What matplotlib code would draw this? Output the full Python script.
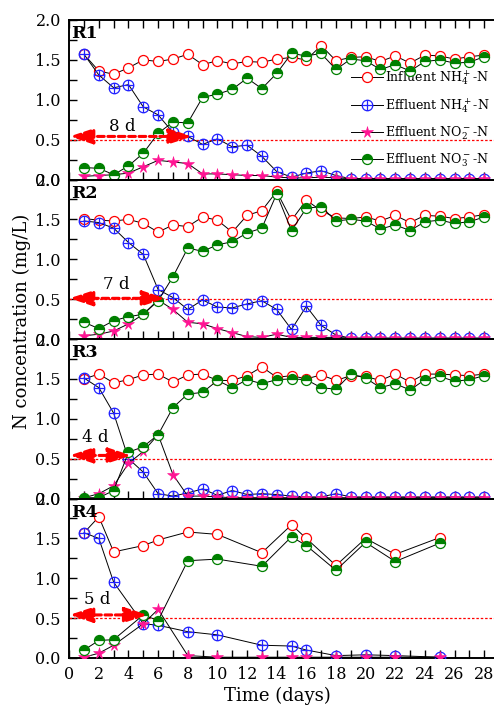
import matplotlib
matplotlib.use('Agg')
import matplotlib.pyplot as plt
from matplotlib.path import Path
from matplotlib.ticker import MultipleLocator

plt.rcParams['font.family'] = ['DejaVu Serif']
plt.rcParams['mathtext.fontset'] = 'dejavuserif'

days = list(range(1, 29))
days4 = [1, 2, 3, 5, 6, 8, 10, 13, 15, 16, 18, 20, 22, 25]

r1_inf = [1.57, 1.36, 1.32, 1.40, 1.50, 1.48, 1.51, 1.57, 1.44, 1.49, 1.45, 1.48, 1.47, 1.51,
          1.53, 1.50, 1.68, 1.49, 1.53, 1.54, 1.48, 1.55, 1.46, 1.56, 1.55, 1.51, 1.54, 1.56]
r1_nh4 = [1.57, 1.31, 1.15, 1.19, 0.91, 0.81, 0.59, 0.54, 0.44, 0.51, 0.41, 0.43, 0.29, 0.10,
          0.03, 0.08, 0.11, 0.05, 0.01, 0.01, 0.01, 0.01, 0.01, 0.01, 0.01, 0.01, 0.01, 0.01]
r1_no2 = [0.04, 0.05, 0.06, 0.08, 0.16, 0.24, 0.22, 0.20, 0.07, 0.07, 0.06, 0.05, 0.05, 0.03,
          0.02, 0.02, 0.03, 0.02, 0.01, 0.01, 0.01, 0.01, 0.01, 0.01, 0.01, 0.01, 0.01, 0.01]
r1_no3 = [0.15, 0.14, 0.06, 0.17, 0.33, 0.58, 0.72, 0.71, 1.03, 1.07, 1.13, 1.27, 1.14, 1.33,
          1.58, 1.55, 1.58, 1.38, 1.51, 1.49, 1.38, 1.44, 1.36, 1.48, 1.50, 1.46, 1.47, 1.54]

r2_inf = [1.51, 1.49, 1.48, 1.50, 1.45, 1.34, 1.43, 1.41, 1.53, 1.49, 1.34, 1.55, 1.61, 1.85,
          1.49, 1.74, 1.61, 1.52, 1.51, 1.53, 1.48, 1.55, 1.46, 1.55, 1.54, 1.51, 1.53, 1.56]
r2_nh4 = [1.48, 1.46, 1.39, 1.21, 1.06, 0.62, 0.52, 0.37, 0.49, 0.40, 0.39, 0.44, 0.48, 0.37,
          0.12, 0.41, 0.17, 0.05, 0.01, 0.01, 0.01, 0.01, 0.01, 0.01, 0.01, 0.01, 0.01, 0.01]
r2_no2 = [0.04, 0.06, 0.10, 0.19, 0.31, 0.49, 0.37, 0.21, 0.19, 0.13, 0.08, 0.03, 0.02, 0.06,
          0.02, 0.02, 0.02, 0.02, 0.01, 0.01, 0.01, 0.01, 0.01, 0.01, 0.01, 0.01, 0.01, 0.01]
r2_no3 = [0.21, 0.13, 0.23, 0.28, 0.31, 0.48, 0.78, 1.14, 1.10, 1.18, 1.22, 1.33, 1.39, 1.82,
          1.36, 1.64, 1.66, 1.48, 1.50, 1.48, 1.38, 1.43, 1.36, 1.47, 1.49, 1.45, 1.47, 1.53]

r3_inf = [1.50, 1.56, 1.45, 1.49, 1.55, 1.56, 1.46, 1.55, 1.56, 1.48, 1.48, 1.54, 1.65, 1.52,
          1.54, 1.50, 1.55, 1.48, 1.54, 1.53, 1.48, 1.56, 1.46, 1.56, 1.56, 1.55, 1.54, 1.56]
r3_nh4 = [1.51, 1.39, 1.07, 0.50, 0.33, 0.06, 0.03, 0.07, 0.12, 0.04, 0.10, 0.05, 0.06, 0.05,
          0.03, 0.02, 0.02, 0.06, 0.02, 0.02, 0.02, 0.02, 0.02, 0.02, 0.02, 0.02, 0.02, 0.02]
r3_no2 = [0.01, 0.06, 0.16, 0.44, 0.59, 0.80, 0.30, 0.03, 0.03, 0.02, 0.01, 0.01, 0.01, 0.01,
          0.01, 0.01, 0.01, 0.01, 0.01, 0.01, 0.01, 0.01, 0.01, 0.01, 0.01, 0.01, 0.01, 0.01]
r3_no3 = [0.01, 0.01, 0.10, 0.58, 0.65, 0.80, 1.14, 1.31, 1.33, 1.48, 1.39, 1.49, 1.44, 1.49,
          1.50, 1.49, 1.39, 1.37, 1.56, 1.51, 1.39, 1.44, 1.36, 1.49, 1.53, 1.47, 1.49, 1.54]

r4_inf = [1.57, 1.77, 1.33, 1.41, 1.48, 1.58, 1.55, 1.32, 1.67, 1.50, 1.16, 1.50, 1.30, 1.51]
r4_nh4 = [1.57, 1.50, 0.95, 0.43, 0.41, 0.33, 0.29, 0.16, 0.15, 0.10, 0.03, 0.04, 0.03, 0.01]
r4_no2 = [0.01, 0.06, 0.16, 0.43, 0.61, 0.03, 0.01, 0.01, 0.01, 0.01, 0.01, 0.01, 0.01, 0.01]
r4_no3 = [0.10, 0.22, 0.23, 0.54, 0.47, 1.22, 1.24, 1.15, 1.52, 1.41, 1.10, 1.45, 1.21, 1.44]

panel_names = ['R1', 'R2', 'R3', 'R4']
panel_days = [days, days, days, days4]
panel_data = [(r1_inf, r1_nh4, r1_no2, r1_no3), (r2_inf, r2_nh4, r2_no2, r2_no3),
              (r3_inf, r3_nh4, r3_no2, r3_no3), (r4_inf, r4_nh4, r4_no2, r4_no3)]
arrow_end = [8.3, 6.5, 4.2, 5.3]
arrow_y = [0.54, 0.51, 0.54, 0.54]
arrow_text = ['8 d', '7 d', '4 d', '5 d']
text_x = [3.6, 3.2, 1.75, 1.9]
text_y = [0.67, 0.68, 0.77, 0.73]
threshold = 0.5
labels = [r'Influent NH$_4^+$-N', r'Effluent NH$_4^+$-N', r'Effluent NO$_2^-$-N', r'Effluent NO$_3^-$-N']

# circle with plus marker
circ = Path.unit_circle()
cross = Path([[-1, 0], [1, 0], [0, -1], [0, 1]],
             [Path.MOVETO, Path.LINETO, Path.MOVETO, Path.LINETO])
oplus = Path.make_compound_path(circ, cross)

W, H = 494, 707
fig = plt.figure(figsize=(W / 100, H / 100), dpi=100)
x0 = 69.2
pxday = 14.82
xmax = 29
left = x0 / W
width = xmax * pxday / W
tops = [20, 179.5, 339, 498.5]
ph = 159.5

axes = []
for i in range(4):
    b = 1 - (tops[i] + ph) / H
    ax = fig.add_axes([left, b, width, ph / H])
    axes.append(ax)
    d = panel_days[i]
    inf, nh4, no2, no3 = panel_data[i]
    ax.plot(d, inf, '-', color='black', lw=0.7, marker='o', ms=7.2, mfc='white',
            mec='#ff0000', mew=0.9, label=labels[0], zorder=3)
    ax.plot(d, nh4, '-', color='black', lw=0.7, marker=oplus, ms=7.6, mfc='none',
            mec='#2222ff', mew=0.9, label=labels[1], zorder=4)
    ax.plot(d, no2, '-', color='black', lw=0.7, marker='*', ms=8.5, mfc='#ff1493',
            mec='#ff1493', mew=0.4, label=labels[2], zorder=5)
    ax.plot(d, no3, '-', color='black', lw=0.7, marker='o', ms=7.2, fillstyle='top',
            mfc='#008000', mfcalt='white', mec='#008000', mew=0.9, label=labels[3], zorder=6)
    ax.axhline(threshold, color='#ff0000', lw=0.9, ls=(0, (2, 1.5)), zorder=2)
    ax.annotate('', xy=(0.02, arrow_y[i]), xytext=(arrow_end[i], arrow_y[i]),
                arrowprops=dict(arrowstyle='<|-|>,head_length=1.0,head_width=0.33',
                                mutation_scale=14, color='#ff0000', lw=2.2,
                                ls=(0, (2.2, 1.2)), shrinkA=0, shrinkB=0), zorder=7)
    ax.text(text_x[i], text_y[i], arrow_text[i], fontsize=12, ha='center', va='center')
    ax.text(0.005, 0.915, panel_names[i], transform=ax.transAxes, fontsize=12.5,
            fontweight='bold', ha='left', va='center')
    ax.set_xlim(0, xmax)
    ax.set_ylim(0, 2.0)
    ax.set_yticks([0, 0.5, 1.0, 1.5, 2.0])
    ax.set_yticklabels(['0.0', '0.5', '1.0', '1.5', '2.0'])
    ax.yaxis.set_minor_locator(MultipleLocator(0.25))
    ax.set_xticks(range(0, 29, 2))
    ax.xaxis.set_minor_locator(MultipleLocator(1))
    ax.tick_params(which='both', direction='in', labelsize=11.5, width=1.0,
                   top=(i == 0), right=False, pad=6)
    ax.tick_params(which='major', length=6)
    ax.tick_params(which='minor', length=6)
    for s in ax.spines.values():
        s.set_linewidth(1.4)
    if i < 3:
        ax.tick_params(labelbottom=False)
    ax.patch.set_alpha(0)

axes[0].legend(loc='upper left', bbox_to_anchor=(0.655, 0.70), frameon=False, fontsize=9,
               handlelength=2.6, handletextpad=0.15, labelspacing=0.75, numpoints=1,
               borderaxespad=0, borderpad=0)

fig.text(0.044, 0.545, 'N concentration (mg/L)', rotation=90, fontsize=13,
         ha='center', va='center')
fig.text(277 / W, 1 - 696 / H, 'Time (days)', fontsize=13, ha='center', va='center')

fig.savefig('out.png', dpi=100)
